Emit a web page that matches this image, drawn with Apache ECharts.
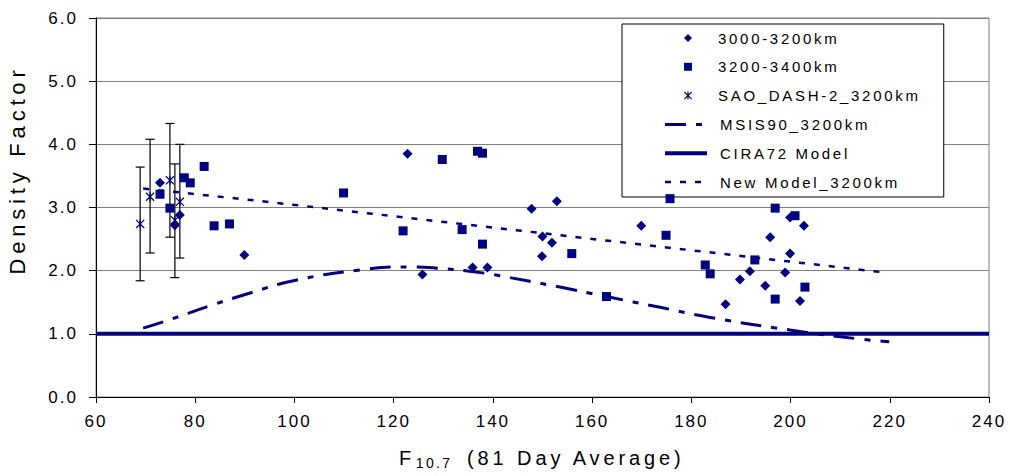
<!DOCTYPE html>
<html>
<head>
<meta charset="utf-8">
<title>Density Factor vs F10.7</title>
<script src="https://cdn.jsdelivr.net/npm/echarts@6/dist/echarts.min.js"></script>
<style>
  html, body { margin: 0; padding: 0; background: #fff; }
  #main { width: 1010px; height: 476px; }
</style>
</head>
<body>
<div id="main"></div>
<script>
// axis ranges
var xMin = 60, xMax = 240, xStep = 20;
var yMin = 0, yMax = 6, yStep = 1;

// 3000-3200km  [F10.7, density factor]
var band3000 = [
  [72.9, 3.39], [75.9, 2.72], [76.9, 2.88], [89.9, 2.25], [122.8, 3.85],
  [125.8, 1.94], [135.9, 2.05], [138.9, 2.05], [147.8, 2.98], [149.9, 2.23],
  [150.0, 2.54], [151.9, 2.44], [152.9, 3.10], [169.9, 2.71], [186.9, 1.47],
  [189.8, 1.86], [191.8, 1.99], [194.9, 1.76], [195.9, 2.53], [198.9, 1.97],
  [199.9, 2.27], [199.9, 2.84], [201.9, 1.52], [202.7, 2.71]
];

// 3200-3400km
var band3200 = [
  [72.9, 3.21], [74.9, 2.99], [77.8, 3.47], [79.0, 3.39], [81.8, 3.65],
  [83.8, 2.71], [86.9, 2.74], [109.9, 3.23], [121.9, 2.63], [129.8, 3.76],
  [133.8, 2.65], [136.9, 3.89], [137.9, 3.86], [137.9, 2.42], [155.9, 2.27],
  [162.9, 1.59], [174.9, 2.56], [175.7, 3.14], [182.8, 2.09], [183.8, 1.95],
  [192.8, 2.17], [196.9, 2.99], [196.9, 1.55], [200.9, 2.87], [202.9, 1.74]
];

// SAO_DASH-2 with error bars
var saoX    = [68.9, 70.9, 74.9, 75.9, 76.9];
var saoY    = [2.74, 3.17, 3.43, 2.80, 3.09];
var saoLow  = [1.84, 2.28, 2.53, 1.89, 2.20];
var saoHigh = [3.64, 4.08, 4.33, 3.69, 4.00];

// model curves
var msis90 = [
  [69.5, 1.09], [73.6, 1.19], [83.6, 1.46], [90.4, 1.63], [99.8, 1.84],
  [113.2, 2.01], [123.3, 2.06], [128.7, 2.04], [138.4, 1.96], [141.4, 1.92],
  [153.5, 1.74], [162.9, 1.59], [173.7, 1.42], [183.8, 1.26], [199.9, 1.06],
  [213.7, 0.92], [219.9, 0.875]
];
var cira72 = [[60, 1.0], [240, 1.0]];
var newModel = [[69.5, 3.30], [93.4, 3.10], [141.4, 2.67], [177.0, 2.35], [218.0, 1.98]];

var markerNames = ['3000-3200km', '3200-3400km', 'SAO_DASH-2_3200km'];
var lineNames = ['MSIS90_3200km', 'CIRA72 Model', 'New Model_3200km'];

var navy = '#000080';
var font = 'Liberation Sans';

var saoPoints = saoX.map(function (x, i) { return [x, saoY[i]]; });
var saoBars = saoX.map(function (x, i) { return [x, saoLow[i], saoHigh[i]]; });

var asterisk = 'path://M4.3,0h1.4v10h-1.4z M0,1L1,0L10,9L9,10z M9,0L10,1L1,10L0,9z';

var myChart = echarts.init(document.getElementById('main'), null, { renderer: 'svg' });

var legendText = { fontFamily: font, fontSize: 15, color: '#000', lineHeight: 16 };

var option = {
  animation: false,
  backgroundColor: '#fff',
  grid: {
    left: 96, right: 21, top: 18, bottom: 79,
    show: true, borderColor: '#808080', borderWidth: 1,
    outerBoundsMode: 'none'
  },
  legend: [
    // line items, this one also draws the box
    {
      orient: 'vertical',
      left: 622, top: 24,
      padding: [92.4, 87, 7, 41],
      itemWidth: 42, itemHeight: 8, itemGap: 12.8,
      backgroundColor: '#fff',
      borderColor: '#000', borderWidth: 1, borderRadius: 0,
      lineStyle: { width: 'inherit' },
      textStyle: Object.assign({ padding: [0, 0, 0, 8] }, legendText),
      data: lineNames.map(function (n) { return { name: n, itemStyle: { opacity: 0 } }; })
    },
    // marker items on top of it
    {
      orient: 'vertical',
      left: 622, top: 24, z: 6,
      padding: [6, 0, 0, 62],
      itemWidth: 8, itemHeight: 8, itemGap: 12.8,
      textStyle: Object.assign({ padding: [0, 0, 0, 21] }, legendText),
      data: markerNames
    }
  ],
  xAxis: {
    type: 'value', min: xMin, max: xMax, interval: xStep,
    name: '{f|F}{s|10.7  }{t|(81 Day Average)}',
    nameLocation: 'middle', nameGap: 49,
    nameTextStyle: {
      rich: {
        f: { fontFamily: font, fontSize: 20, lineHeight: 24, width: 16.7, align: 'left', color: '#000' },
        s: { fontFamily: font, fontSize: 14, lineHeight: 10, width: 51.3, align: 'left', verticalAlign: 'bottom', color: '#000' },
        t: { fontFamily: font, fontSize: 20, lineHeight: 24, width: 219, align: 'left', color: '#000' }
      }
    },
    axisLine: { lineStyle: { color: '#000', width: 1 } },
    axisTick: { inside: false, length: 6, lineStyle: { color: '#000' } },
    axisLabel: { fontFamily: font, fontSize: 17, color: '#000', margin: 16 },
    splitLine: { show: false }
  },
  yAxis: {
    type: 'value', min: yMin, max: yMax, interval: yStep,
    name: 'Density Factor',
    nameLocation: 'middle', nameGap: 68,
    nameTextStyle: { fontFamily: font, fontSize: 22, color: '#000', padding: [0, 0, 0, 75] },
    axisLine: { show: true, lineStyle: { color: '#000', width: 1 } },
    axisTick: { show: true, inside: false, length: 7, lineStyle: { color: '#000' } },
    axisLabel: {
      fontFamily: font, fontSize: 17, color: '#000', margin: 18,
      formatter: function (v) { return v.toFixed(1); }
    },
    splitLine: { show: true, lineStyle: { color: '#808080', width: 1 } }
  },
  series: [
    {
      name: 'CIRA72 Model', type: 'line', data: cira72,
      symbol: 'none', z: 3,
      lineStyle: { color: navy, width: 4 }, itemStyle: { color: navy }
    },
    {
      name: 'MSIS90_3200km', type: 'line', data: msis90,
      symbol: 'none', smooth: true, z: 3,
      lineStyle: { color: navy, width: 3, type: [21, 10, 6, 10] }, itemStyle: { color: navy }
    },
    {
      name: 'New Model_3200km', type: 'line', data: newModel,
      symbol: 'none', z: 3,
      lineStyle: { color: navy, width: 2.5, type: [6, 9] }, itemStyle: { color: navy }
    },
    {
      name: 'SAO error', type: 'custom', data: saoBars, z: 2,
      encode: { x: 0, y: [1, 2] },
      renderItem: function (params, api) {
        var top = api.coord([api.value(0), api.value(2)]);
        var bot = api.coord([api.value(0), api.value(1)]);
        var st = { stroke: '#000', lineWidth: 1.2 };
        return {
          type: 'group',
          children: [
            { type: 'line', shape: { x1: top[0], y1: top[1], x2: bot[0], y2: bot[1] }, style: st },
            { type: 'line', shape: { x1: top[0] - 4.5, y1: top[1], x2: top[0] + 4.5, y2: top[1] }, style: st },
            { type: 'line', shape: { x1: bot[0] - 4.5, y1: bot[1], x2: bot[0] + 4.5, y2: bot[1] }, style: st }
          ]
        };
      }
    },
    {
      name: '3000-3200km', type: 'scatter', data: band3000,
      symbol: 'diamond', symbolSize: 10, z: 4,
      itemStyle: { color: navy, opacity: 1 }
    },
    {
      name: '3200-3400km', type: 'scatter', data: band3200,
      symbol: 'rect', symbolSize: 9, z: 4,
      itemStyle: { color: navy, opacity: 1 }
    },
    {
      name: 'SAO_DASH-2_3200km', type: 'scatter', data: saoPoints,
      symbol: asterisk, symbolSize: 9, z: 4,
      itemStyle: { color: navy, opacity: 1 }
    }
  ]
};

myChart.setOption(option);

// the original text is tracked out, spread letters by font size
var spacing = { '22px': 4.8, '20px': 3.9, '17px': 2, '15px': 2.7, '14px': 2.4 };
function spreadText() {
  document.querySelectorAll('#main text').forEach(function (t) {
    var s = spacing[getComputedStyle(t).fontSize];
    if (s) t.setAttribute('letter-spacing', s);
  });
}
spreadText();
myChart.on('finished', spreadText);
setTimeout(spreadText, 0);
</script>
</body>
</html>
